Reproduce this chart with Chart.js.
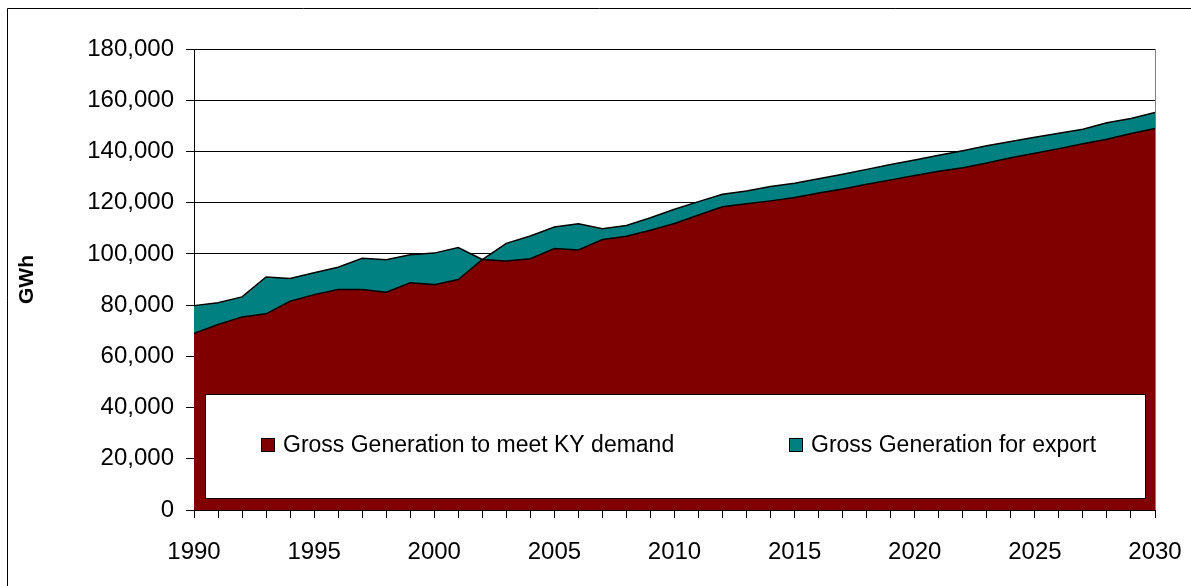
<!DOCTYPE html>
<html>
<head>
<meta charset="utf-8">
<script src="https://cdn.jsdelivr.net/npm/chart.js@4"></script>
<style>
  html, body { margin: 0; padding: 0; background: #fff; }
  #wrap { position: absolute; left: 0; top: 0; width: 1191px; height: 586px; }
</style>
</head>
<body>
<div id="wrap"><canvas id="genChart" width="1191" height="586"></canvas></div>
<script>
// Data (GWh)
const years = [];
for (let y = 1990; y <= 2030; y++) years.push(String(y));

const demandGWh = [
    68900, 72400, 75400, 76600, 81500, 84100, 86100, 86100, 85000, 88700,
    88000, 90000, 97800, 97200, 98100, 102100, 101500, 105600, 106900, 109200,
    111900, 115200, 118400, 119600, 120700, 122000, 123800, 125300, 127200, 128900,
    130600, 132300, 133600, 135500, 137500, 139300, 141100, 143000, 144800, 147000,
    149000
];
const totalGWh = [
    79800, 80900, 83200, 91000, 90400, 92600, 94800, 98300, 97700, 99700,
    100300, 102500, 97800, 104100, 107000, 110500, 111800, 109800, 111100, 114100,
    117400, 120400, 123300, 124600, 126300, 127600, 129300, 131100, 133000, 134900,
    136700, 138500, 140300, 142200, 143900, 145500, 147100, 148700, 151200, 152900,
    155200
];
const exportGWh = totalGWh.map((t, i) => t - demandGWh[i]);

const seriesNames = ['Gross Generation to meet KY demand', 'Gross Generation for export'];
const seriesColors = ['#800000', '#008080'];
const yTicks = [0, 20000, 40000, 60000, 80000, 100000, 120000, 140000, 160000, 180000];

const FONT = 'Arial, "Liberation Sans", sans-serif';

// outer frame (top and left edges visible) + legend box inside plot area
const framePlugin = {
    id: 'frame',
    beforeDraw(chart) {
        const c = chart.ctx;
        c.save();
        c.fillStyle = '#fff';
        c.fillRect(0, 0, chart.width, chart.height);
        c.strokeStyle = '#000';
        c.lineWidth = 1;
        c.beginPath();
        c.moveTo(7.5, chart.height);
        c.lineTo(7.5, 8.5);
        c.lineTo(chart.width, 8.5);
        c.stroke();
        c.restore();
    },
    afterDatasetsDraw(chart) {
        const c = chart.ctx;
        const a = chart.chartArea;
        c.save();
        // right edge of plot
        c.strokeStyle = '#808080';
        c.beginPath();
        c.moveTo(a.right + 0.5, a.top);
        c.lineTo(a.right + 0.5, a.bottom);
        c.stroke();
        // legend box
        const bx = a.left + 11, by = 394, bw = a.right - a.left - 21, bh = 104;
        c.fillStyle = '#fff';
        c.fillRect(bx, by, bw, bh);
        c.strokeStyle = '#000';
        c.lineWidth = 1;
        c.strokeRect(bx + 0.5, by + 0.5, bw, bh);
        c.font = '23px ' + FONT;
        c.textBaseline = 'middle';
        const items = [{ x: 261 }, { x: 789 }];
        items.forEach((it, i) => {
            c.fillStyle = seriesColors[i];
            c.fillRect(it.x, 438, 14, 14);
            c.strokeStyle = '#000';
            c.strokeRect(it.x + 0.5, 438.5, 13, 13);
            c.fillStyle = '#000';
            c.fillText(seriesNames[i], it.x + 22, 446);
        });
        c.restore();
    }
};

const ctx = document.getElementById('genChart').getContext('2d');
new Chart(ctx, {
    type: 'line',
    data: {
        labels: years,
        datasets: [{
            label: seriesNames[0],
            data: demandGWh,
            backgroundColor: seriesColors[0],
            borderColor: '#000',
            borderWidth: 1.5,
            pointRadius: 0,
            fill: 'origin',
            tension: 0
        }, {
            label: seriesNames[1],
            data: exportGWh,
            backgroundColor: seriesColors[1],
            borderColor: '#000',
            borderWidth: 1.5,
            pointRadius: 0,
            fill: '-1',
            tension: 0
        }]
    },
    options: {
        responsive: false,
        animation: false,
        layout: { padding: { left: 0, right: 36, top: 49, bottom: 0 } },
        plugins: {
            legend: { display: false },
            tooltip: { enabled: false }
        },
        scales: {
            x: {
                offset: false,
                afterFit: (axis) => {
                    axis.height = 76;
                    axis.paddingLeft = 0;
                    axis.paddingRight = 0;
                },
                grid: {
                    drawOnChartArea: false,
                    drawTicks: true,
                    tickLength: 8,
                    color: '#000'
                },
                border: { color: '#000', width: 1 },
                ticks: {
                    autoSkip: false,
                    maxRotation: 0,
                    color: '#000',
                    font: { family: FONT, size: 24 },
                    padding: 20,
                    callback: function (v) {
                        const lab = this.getLabelForValue(v);
                        return (Number(lab) % 5 === 0) ? lab : '';
                    }
                }
            },
            y: {
                stacked: true,
                min: 0,
                max: 180000,
                afterFit: (axis) => { axis.width = 194; },
                afterBuildTicks: (axis) => { axis.ticks = yTicks.map(v => ({ value: v })); },
                grid: {
                    color: '#000',
                    lineWidth: 1,
                    tickLength: 8
                },
                border: { color: '#000', width: 1 },
                ticks: {
                    color: '#000',
                    font: { family: FONT, size: 24 },
                    padding: 12,
                    callback: v => v.toLocaleString('en-US')
                },
                title: {
                    display: true,
                    text: 'GWh',
                    color: '#000',
                    font: { family: FONT, size: 21, weight: 'bold' },
                    padding: { top: 15, bottom: 0 }
                }
            }
        }
    },
    plugins: [framePlugin]
});
</script>
</body>
</html>
